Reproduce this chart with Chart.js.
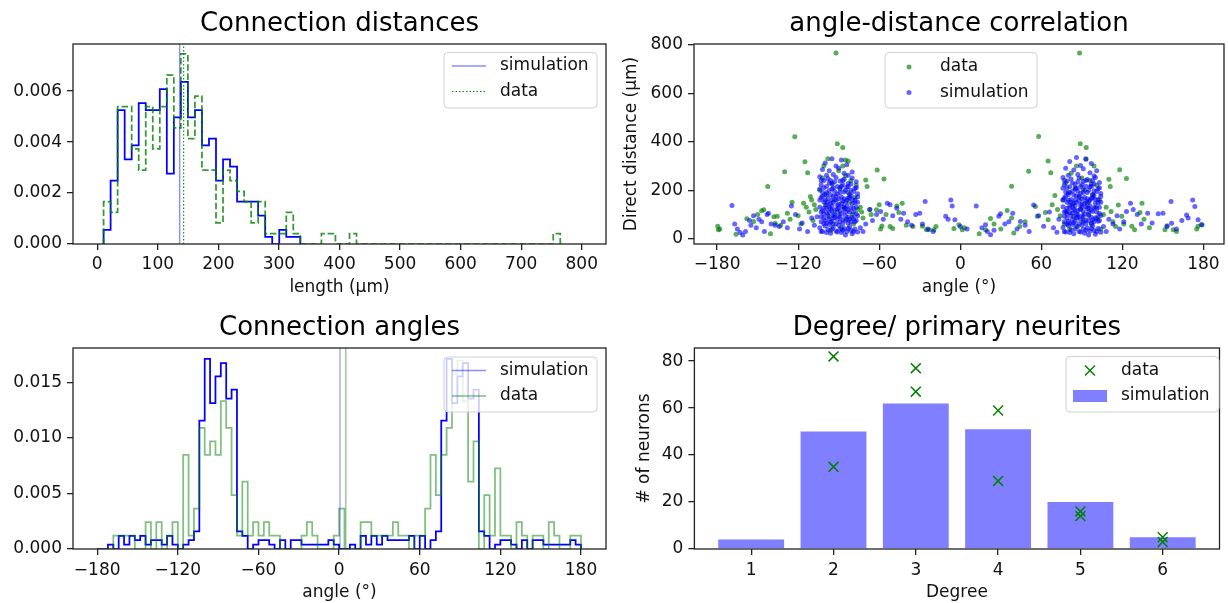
<!DOCTYPE html>
<html>
<head>
<meta charset="utf-8">
<script src="https://cdn.jsdelivr.net/npm/chart.js@4.4.1/dist/chart.umd.min.js"></script>
<style>
  html, body { margin: 0; padding: 0; background: #fff; }
  #wrap { position: relative; width: 1228px; height: 603px; }
  #wrap canvas { position: absolute; left: 0; top: 0; }
</style>
</head>
<body>
<div id="wrap">
  <canvas id="cDist" width="1228" height="603"></canvas>
  <canvas id="cCorr" width="1228" height="603"></canvas>
  <canvas id="cAngle" width="1228" height="603"></canvas>
  <canvas id="cDeg" width="1228" height="603"></canvas>
</div>
<script>
// ---- connection distances (density histograms) ----
const distBinStart = 10.5, distBinWidth = 11.6;
const distSim = [0.00055, 0.00249, 0.00525, 0.00332, 0.00387, 0.00553, 0.00525, 0.00525, 0.00608, 0.00276,
  0.00497, 0.00636, 0.00497, 0.00525, 0.00387, 0.00414, 0.00249, 0.00332, 0.00304, 0.00166,
  0.00166, 0.00166, 0.00111, 0.00028, 0, 0.00055, 0.00028, 0.00028];
const distData = [0.00166, 0.00124, 0.00539, 0.00539, 0.00373, 0.0029, 0.00539, 0.00373, 0.00539, 0.00663,
  0.00456, 0.00746, 0.00414, 0.0058, 0.0029, 0.0029, 0.00083, 0.0029, 0.00249, 0.00207,
  0.00166, 0.00083, 0.00166, 0.00041, 0.00041, 0.00041, 0.00124, 0.00041, 0, 0,
  0, 0.00041, 0.00041, 0, 0, 0.00041, 0, 0, 0, 0,
  0, 0, 0, 0, 0, 0, 0, 0, 0, 0,
  0, 0, 0, 0, 0, 0, 0, 0, 0, 0,
  0, 0, 0, 0, 0.00041];
const distSimMean = 136.1, distDataMean = 142.7;
const distXTicks = [0, 100, 200, 300, 400, 500, 600, 700, 800];
const distYTicks = [0, 0.002, 0.004, 0.006];

// ---- connection angles (density histograms, 4 degree bins) ----
const angleBinStart = -180, angleBinWidth = 4;
const angleSim = [0, 0, 0.0004, 0, 0.00119, 0.0004, 0.00119, 0.0008, 0.00119, 0.0004,
  0.0008, 0.0008, 0.0004, 0.00119, 0.0004, 0, 0.0004, 0.0008, 0.00159,
  0.01154, 0.01711, 0.01313, 0.01552, 0.01672, 0.01353, 0.01433,
  0.00159, 0.00119, 0, 0.0004, 0.0008, 0.0008, 0.0004, 0, 0.0008, 0,
  0.0008, 0.0008, 0.0004, 0.0004, 0.0004, 0.0004, 0.0004, 0.0008, 0.0004,
  0, 0, 0.0004, 0, 0.00119, 0.0004, 0.00119, 0.0004, 0.00119, 0.0008,
  0.0008, 0.0008, 0.0008, 0.00119, 0, 0.00119, 0, 0.0008, 0.00159,
  0.01154, 0.01711, 0.01313, 0.01552, 0.01672, 0.01353, 0.01433,
  0.00159, 0.00119, 0, 0.0004, 0.0008, 0.0008, 0.0004, 0, 0.0008, 0,
  0.0008, 0.0008, 0.0004, 0.0004, 0.0004, 0.0004, 0.0004, 0.0008, 0.0004];
const angleData = [0, 0, 0, 0.00121, 0.00121, 0.00121, 0.00121, 0, 0, 0.00242,
  0, 0.00242, 0, 0.00121, 0.00242, 0, 0.00847, 0.00121, 0.00363,
  0.01089, 0.00847, 0.00968, 0.00847, 0.01331, 0.01089, 0.00484,
  0.00121, 0.00605, 0.00121, 0.00242, 0.00121, 0.00242, 0.00121, 0.00121,
  0, 0, 0, 0, 0.00121, 0.00242, 0.00121, 0, 0, 0, 0.00121,
  0.00363, 0, 0, 0,
  0.00242, 0.00242, 0.00121, 0.00121, 0.00121, 0.00121, 0.00242, 0.00121, 0.00121, 0, 0.00121, 0.00121,
  0.00363, 0.00847, 0.00484, 0.00847, 0.01089, 0.01573, 0.01694, 0.01331, 0.00605, 0.00968,
  0, 0.00484, 0.00121, 0.00726, 0.00121, 0.00121, 0, 0.00242, 0.00121, 0,
  0.00121, 0.00121, 0, 0.00242, 0.00121, 0, 0, 0.00121, 0.00121];
const angleSimMean = 0.7, angleDataMean = 5;
const angleTicks = [-180, -120, -60, 0, 60, 120, 180];
const angleTickLabels = ['\u2212180', '\u2212120', '\u221260', '0', '60', '120', '180'];
const angleYTicks = [0, 0.005, 0.010, 0.015];

// ---- angle-distance correlation: [angle, direct distance] ----
const corrData = [
  [-179.5, 51], [-179, 37], [-178, 40], [-166, 18], [-158, 82], [-153, 71], [-150, 100], [-147, 115], [-145.5, 119], [-142.5, 215],
  [-140.5, 20], [-138, 90], [-137, 64], [-135.5, 92], [-133, 55], [-130, 276], [-128, 105], [-126, 80], [-124.5, 150], [-122.5, 420],
  [-120, 95], [-118, 60], [-116, 146], [-115, 317], [-114, 130], [-113, 272], [-112, 110], [-111, 174], [-110, 160], [-109, 75],
  [-108, 140], [-107, 120],
  [-104, 200], [-102, 250], [-100, 140], [-99, 180], [-97, 90], [-95, 230], [-94, 60], [-93, 160], [-91, 110], [-89, 210],
  [-88, 45], [-86, 130], [-85, 260], [-84, 80], [-83, 190], [-82, 150], [-81, 240], [-80, 100], [-79, 60], [-78, 170],
  [-77, 220], [-76, 120], [-96, 35], [-90, 280], [-87, 300],
  [-101, 301], [-98, 330], [-91, 392], [-92, 766], [-87, 376], [-85, 324], [-83, 320], [-74, 130], [-73, 110], [-72, 85],
  [-70, 242], [-69, 215], [-67, 120], [-66, 100], [-62, 119], [-61.5, 283], [-60, 140], [-59, 40], [-58, 52], [-56.5, 246],
  [-55, 100], [-52, 50], [-50, 42], [-47, 135], [-45.5, 108], [-43, 146], [-40, 55], [-35, 50], [-28, 51], [-25, 37], [-23, 37],
  [-19.5, 37], [-18, 50], [-4.7, 42], [-1, 57], [1.5, 37], [3, 45], [14, 20], [18.7, 37], [22.4, 83], [25, 60],
  [30, 40], [34.7, 116], [38, 85], [38, 216], [39.6, 23], [44, 50], [48, 70], [50.6, 278], [55.6, 133], [57, 92],
  [58, 421], [63, 108], [65, 78], [65, 320], [67, 272], [68, 140], [70, 178], [72, 120], [74, 95],
  [76, 160], [77, 60], [78, 230], [79, 110], [80, 190], [81, 40], [82, 270], [83, 140], [84, 90], [85, 210],
  [86, 300], [87, 50], [88, 170], [88.3, 766], [88.8, 392], [89, 120], [90, 250], [91, 75], [92, 200], [93.2, 376],
  [93, 330], [94, 145], [95, 100], [96, 240], [97, 60], [98, 180], [99, 300], [100, 130], [101, 220], [102, 90],
  [103, 160], [104, 40],
  [106, 100], [108, 130], [110, 245], [111, 215], [111.6, 112], [113, 70], [115, 50], [117, 139], [118, 284], [119.5, 92],
  [121, 60], [123, 248], [127, 51], [129, 37], [133, 108], [134.5, 146], [136, 80], [140, 45], [151.5, 37], [153, 53],
  [157.6, 37], [160, 30], [175, 40], [176, 51], [179, 57]
];
const corrSim = [
  [-169, 137], [-167, 60], [-165, 40], [-163, 25], [-161, 15], [-159, 30], [-156, 75], [-155, 55], [-153, 95], [-151, 45],
  [-149, 80], [-147, 70], [-145, 30], [-143, 100], [-142, 105], [-140, 60], [-137, 55], [-134, 50], [-131, 70], [-128, 45],
  [-125, 135], [-122, 100], [-119, 40], [-117, 65], [-113, 30], [-110, 85], [-108, 55], [-106, 90],
  [-95, 330], [-88, 325], [-100, 312], [-84, 305], [-92, 300],
  [-102, 285], [-97, 280], [-90, 290], [-86, 270], [-80, 275], [-94, 265], [-99, 262], [-83, 262],
  [-104, 255], [-101, 240], [-98, 248], [-95, 225], [-92, 252], [-89, 238], [-86, 245], [-83, 228], [-80, 250], [-77, 235],
  [-103, 222], [-96, 240], [-87, 222],
  [-104, 205], [-102, 190], [-99, 215], [-97, 198], [-94, 210], [-91, 185], [-89, 205], [-86, 192], [-84, 212], [-81, 200],
  [-78, 208], [-76, 185], [-100, 182], [-93, 195], [-82, 183], [-88, 216],
  [-103, 170], [-101, 152], [-98, 165], [-96, 145], [-94, 175], [-92, 158], [-90, 142], [-88, 172], [-85, 150], [-83, 168],
  [-80, 145], [-78, 160], [-76, 172], [-99, 140], [-87, 155], [-95, 160], [-81, 178],
  [-104, 130], [-102, 115], [-99, 125], [-97, 108], [-95, 135], [-93, 118], [-90, 128], [-88, 104], [-86, 122], [-84, 135],
  [-82, 110], [-79, 125], [-77, 102], [-101, 102], [-91, 138], [-85, 110], [-96, 122],
  [-103, 90], [-100, 75], [-98, 95], [-96, 68], [-94, 85], [-92, 62], [-90, 92], [-87, 78], [-85, 95], [-83, 65],
  [-80, 88], [-78, 70], [-76, 95], [-101, 62], [-89, 70], [-94, 98], [-82, 80],
  [-104, 45], [-102, 30], [-100, 52], [-98, 38], [-96, 22], [-94, 48], [-92, 32], [-90, 55], [-88, 25], [-86, 42],
  [-84, 30], [-82, 50], [-80, 20], [-78, 40], [-76, 28], [-97, 58], [-89, 40], [-81, 35], [-85, 15],
  [-103, 240], [-101, 210], [-99, 190], [-97, 230], [-95, 205], [-93, 235], [-91, 215], [-89, 190], [-87, 240], [-85, 200],
  [-83, 215], [-81, 225], [-79, 195], [-77, 210],
  [-104, 160], [-102, 175], [-100, 160], [-98, 150], [-96, 180], [-94, 150], [-92, 175], [-90, 165], [-88, 145], [-86, 165],
  [-84, 158], [-82, 170], [-80, 162], [-78, 148], [-76, 150],
  [-103, 110], [-101, 125], [-99, 108], [-97, 130], [-95, 115], [-93, 100], [-91, 122], [-89, 112], [-87, 132], [-85, 125],
  [-83, 118], [-81, 128], [-79, 110], [-77, 130],
  [-103, 70], [-101, 85], [-99, 65], [-97, 80], [-95, 72], [-93, 88], [-91, 80], [-89, 90], [-87, 62], [-85, 75],
  [-83, 88], [-81, 70], [-79, 82], [-77, 75],
  [-103, 30], [-99, 25], [-95, 40], [-91, 28], [-87, 35], [-83, 42], [-79, 30],
  [-74, 45], [-72, 30], [-70, 60], [-67, 120], [-65, 75], [-62, 100], [-59, 112], [-57, 80], [-54, 146], [-52, 140],
  [-50, 95], [-47, 125], [-44, 80], [-42, 105], [-39, 70], [-36, 55], [-33, 100], [-30, 105], [-28, 60], [-26, 153],
  [-24, 40], [-20, 30],
  [-10.8, 92], [-9, 80], [-7, 160], [-6, 135], [-4, 78], [0, 50], [5, 40], [11.8, 135], [16, 45], [18.7, 57],
  [20, 30], [22.4, 16], [25, 35], [28.5, 92], [29.8, 103], [33, 60], [36, 70], [38.8, 105], [42, 40], [44.5, 71],
  [48, 55], [51, 30], [54.3, 139], [58, 95], [61.7, 51], [66, 110], [69, 45], [71.5, 26], [73, 80],
  [86, 335], [93, 328], [81, 318], [97, 310], [89, 302],
  [78, 290], [84, 283], [91, 288], [96, 272], [101, 280], [87, 265], [80, 262], [99, 258],
  [76, 252], [79, 238], [82, 246], [85, 224], [88, 250], [91, 236], [94, 244], [97, 226], [100, 252], [103, 232],
  [77, 222], [90, 222], [98, 240],
  [76, 208], [78, 192], [81, 214], [83, 196], [86, 208], [89, 186], [91, 204], [94, 190], [96, 214], [99, 198],
  [102, 206], [104, 186], [80, 182], [87, 196], [98, 182], [93, 216],
  [77, 168], [79, 150], [82, 162], [84, 146], [86, 176], [88, 156], [90, 144], [92, 170], [95, 152], [97, 166],
  [100, 146], [102, 162], [104, 174], [81, 140], [93, 154], [85, 160], [99, 178],
  [76, 132], [78, 114], [81, 126], [83, 106], [85, 136], [87, 116], [90, 130], [92, 102], [94, 124], [96, 136],
  [98, 112], [101, 126], [103, 104], [79, 102], [89, 138], [95, 110], [84, 120],
  [77, 92], [80, 72], [82, 96], [84, 66], [86, 86], [88, 62], [90, 94], [93, 76], [95, 96], [97, 64],
  [100, 86], [102, 72], [104, 96], [79, 60], [91, 68], [86, 100], [98, 78],
  [76, 46], [78, 28], [80, 54], [82, 36], [84, 20], [86, 50], [88, 30], [90, 56], [92, 22], [94, 44],
  [96, 32], [98, 52], [100, 18], [102, 42], [104, 26], [83, 58], [91, 40], [99, 34], [95, 15],
  [77, 240], [79, 210], [81, 190], [83, 230], [85, 205], [87, 235], [89, 215], [91, 190], [93, 240], [95, 200],
  [97, 215], [99, 225], [101, 195], [103, 210],
  [76, 160], [78, 175], [80, 160], [82, 150], [84, 180], [86, 150], [88, 175], [90, 165], [92, 145], [94, 165],
  [96, 158], [98, 170], [100, 162], [102, 148], [104, 150],
  [77, 110], [79, 125], [81, 108], [83, 130], [85, 115], [87, 100], [89, 122], [91, 112], [93, 132], [95, 125],
  [97, 118], [99, 128], [101, 110], [103, 130],
  [77, 70], [79, 85], [81, 65], [83, 80], [85, 72], [87, 88], [89, 80], [91, 90], [93, 62], [95, 75],
  [97, 88], [99, 70], [101, 82], [103, 75],
  [77, 30], [81, 25], [85, 40], [89, 28], [93, 35], [97, 42], [101, 30],
  [106, 50], [108, 30], [110, 80], [113, 60], [116, 95], [118, 40], [121, 70], [123, 112], [126, 146], [128, 120],
  [131, 100], [134, 60], [138.7, 105], [142, 65], [146.5, 103], [150, 105], [153, 50], [156, 153], [156.4, 64], [160, 40],
  [164, 75], [167.5, 98], [168.7, 85], [172, 160], [173.6, 133], [176, 78], [178.5, 57]
];
const corrYTicks = [0, 200, 400, 600, 800];

// ---- degree / primary neurites ----
const degrees = [1, 2, 3, 4, 5, 6];
const degreeSim = [4, 50, 62, 51, 20, 5];
const degreeDataDeg = [2, 3, 4, 5, 6];
const degreeDataA = [82, 77, 59, 16, 5];
const degreeDataB = [35, 67, 29, 14, 3];
const degreeYTicks = [0, 20, 40, 60, 80];

Chart.defaults.font.family = '"DejaVu Sans", sans-serif';
Chart.defaults.font.size = 17;
Chart.defaults.color = '#111';

function stepPoints(start, width, vals) {
  const pts = [{x: start, y: 0}];
  vals.forEach((v, i) => pts.push({x: start + i * width, y: v}));
  pts.push({x: start + vals.length * width, y: 0});
  return pts;
}

function linAxis(o) {
  return {
    type: 'linear', min: o.min, max: o.max, offset: false,
    afterBuildTicks: s => { s.ticks = o.ticks.map(v => ({value: v})); },
    afterFit: s => { if (s.isHorizontal()) s.height = o.size; else s.width = o.size; },
    ticks: { padding: o.pad, color: '#111', autoSkip: false, maxRotation: 0,
             callback: (v, i) => o.labels[i] },
    grid: { offset: false, drawOnChartArea: false, drawTicks: true, tickLength: 6, color: '#222', lineWidth: 1.3 },
    border: { display: false },
    title: { display: !!o.title, text: o.title || '', padding: 0, color: '#111' }
  };
}

function drawHandle(ctx, it, x0, x1, cy) {
  ctx.save();
  const cx = (x0 + x1) / 2;
  if (it.kind === 'line') {
    ctx.strokeStyle = it.color; ctx.lineWidth = it.width; ctx.setLineDash(it.dash || []);
    ctx.beginPath(); ctx.moveTo(x0, cy); ctx.lineTo(x1, cy); ctx.stroke();
  } else if (it.kind === 'dot') {
    ctx.fillStyle = it.color;
    ctx.beginPath(); ctx.arc(cx, cy, 2.5, 0, Math.PI * 2); ctx.fill();
  } else if (it.kind === 'cross') {
    ctx.strokeStyle = it.color; ctx.lineWidth = 1.5;
    ctx.beginPath();
    ctx.moveTo(cx - 5, cy - 5); ctx.lineTo(cx + 5, cy + 5);
    ctx.moveTo(cx - 5, cy + 5); ctx.lineTo(cx + 5, cy - 5);
    ctx.stroke();
  } else if (it.kind === 'patch') {
    ctx.fillStyle = it.color; ctx.fillRect(x0, cy - 6, x1 - x0, 12);
  }
  ctx.restore();
}

// frame, title and legend in matplotlib style
const decor = {
  id: 'decor',
  afterDatasetsDraw(chart, args, o) {
    const ctx = chart.ctx, a = chart.chartArea;
    ctx.save();
    ctx.strokeStyle = '#222'; ctx.lineWidth = 1.3;
    ctx.strokeRect(a.left, a.top, a.right - a.left, a.bottom - a.top);
    ctx.fillStyle = '#000';
    ctx.font = '26px "DejaVu Sans", sans-serif';
    ctx.textAlign = 'center'; ctx.textBaseline = 'alphabetic';
    ctx.fillText(o.title, (a.left + a.right) / 2, o.titleY);
    const L = o.legend;
    ctx.beginPath();
    ctx.roundRect(L.x, L.y, L.w, L.h, 4);
    ctx.fillStyle = 'rgba(255,255,255,0.8)'; ctx.fill();
    ctx.strokeStyle = '#d0d0d0'; ctx.lineWidth = 1; ctx.stroke();
    L.items.forEach((it, i) => {
      drawHandle(ctx, it, L.hx0, L.hx1, L.rows[i]);
      ctx.fillStyle = '#111';
      ctx.font = '17px "DejaVu Sans", sans-serif';
      ctx.textAlign = 'left'; ctx.textBaseline = 'middle';
      ctx.fillText(it.label, L.tx, L.rows[i]);
    });
    ctx.restore();
  }
};

const baseOpts = { responsive: false, animation: false, devicePixelRatio: 1 };

// ---------- Connection distances ----------
const distYMax = 0.00785;
new Chart(document.getElementById('cDist'), {
  type: 'scatter',
  data: {
    datasets: [
      { data: stepPoints(distBinStart, distBinWidth, distSim), showLine: true, stepped: true,
        borderColor: '#0000ff', borderWidth: 1.75, pointRadius: 0, order: 4 },
      { data: stepPoints(distBinStart, distBinWidth, distData), showLine: true, stepped: true,
        borderColor: 'rgba(0,128,0,0.8)', borderWidth: 1.75, borderDash: [6.5, 2.8], pointRadius: 0, order: 3 },
      { data: [{x: distSimMean, y: 0}, {x: distSimMean, y: distYMax}], showLine: true,
        borderColor: 'rgba(0,0,255,0.45)', borderWidth: 1.4, pointRadius: 0, order: 2 },
      { data: [{x: distDataMean, y: 0}, {x: distDataMean, y: distYMax}], showLine: true,
        borderColor: 'rgb(0,140,0)', borderWidth: 1.1, borderDash: [1.5, 2], pointRadius: 0, order: 1 }
    ]
  },
  options: {
    ...baseOpts,
    layout: { padding: { left: 13, right: 622, top: 44, bottom: 304.8 } },
    scales: {
      x: linAxis({ min: -40, max: 840, ticks: distXTicks, labels: distXTicks.map(String), size: 54.2, pad: 4, title: 'length (\u00b5m)' }),
      y: linAxis({ min: 0, max: distYMax, ticks: distYTicks, labels: distYTicks.map(v => v.toFixed(3)), size: 60, pad: 5 })
    },
    plugins: {
      legend: { display: false }, tooltip: { enabled: false },
      decor: { title: 'Connection distances', titleY: 31,
        legend: { x: 444, y: 52.5, w: 153, h: 55.5, rows: [66, 91.5], hx0: 452, hx1: 486, tx: 500,
          items: [
            { kind: 'line', color: 'rgba(0,0,255,0.45)', width: 1.3, label: 'simulation' },
            { kind: 'line', color: 'rgb(0,140,0)', width: 1.1, dash: [1.5, 2], label: 'data' }
          ] } }
    }
  },
  plugins: [decor]
});

// ---------- angle-distance correlation ----------
new Chart(document.getElementById('cCorr'), {
  type: 'scatter',
  data: {
    datasets: [
      { data: corrSim.map(p => ({x: p[0], y: p[1]})), backgroundColor: 'rgba(0,0,255,0.6)',
        borderWidth: 0, pointRadius: 2.5, order: 1 },
      { data: corrData.map(p => ({x: p[0], y: p[1]})), backgroundColor: 'rgba(0,128,0,0.65)',
        borderWidth: 0, pointRadius: 2.5, order: 2 }
    ]
  },
  options: {
    ...baseOpts,
    layout: { padding: { left: 621.3, right: 2, top: 44, bottom: 304.8 } },
    scales: {
      x: linAxis({ min: -197.1, max: 195.2, ticks: angleTicks, labels: angleTickLabels, size: 54.2, pad: 4, title: 'angle (\u00b0)' }),
      y: linAxis({ min: -22, max: 803, ticks: corrYTicks, labels: corrYTicks.map(String), size: 72.7, pad: 5, title: 'Direct distance (\u00b5m)' })
    },
    plugins: {
      legend: { display: false }, tooltip: { enabled: false },
      decor: { title: 'angle-distance correlation', titleY: 31,
        legend: { x: 885, y: 52.5, w: 152, h: 55.5, rows: [67, 92.5], hx0: 892, hx1: 926, tx: 940,
          items: [
            { kind: 'dot', color: 'rgba(0,128,0,0.65)', label: 'data' },
            { kind: 'dot', color: 'rgba(0,0,255,0.6)', label: 'simulation' }
          ] } }
    }
  },
  plugins: [decor]
});

// ---------- Connection angles ----------
const angleYMax = 0.01808;
new Chart(document.getElementById('cAngle'), {
  type: 'scatter',
  data: {
    datasets: [
      { data: stepPoints(angleBinStart, angleBinWidth, angleSim), showLine: true, stepped: true,
        borderColor: '#0000ff', borderWidth: 1.75, pointRadius: 0, order: 4 },
      { data: stepPoints(angleBinStart, angleBinWidth, angleData), showLine: true, stepped: true,
        borderColor: 'rgba(0,128,0,0.5)', borderWidth: 1.75, pointRadius: 0, order: 3 },
      { data: [{x: angleSimMean, y: 0}, {x: angleSimMean, y: angleYMax}], showLine: true,
        borderColor: 'rgba(0,0,255,0.35)', borderWidth: 1.5, pointRadius: 0, order: 2 },
      { data: [{x: angleDataMean, y: 0}, {x: angleDataMean, y: angleYMax}], showLine: true,
        borderColor: 'rgba(0,128,0,0.5)', borderWidth: 1.2, pointRadius: 0, order: 1 }
    ]
  },
  options: {
    ...baseOpts,
    layout: { padding: { left: 13, right: 622, top: 348, bottom: 0 } },
    scales: {
      x: linAxis({ min: -198, max: 198.6, ticks: angleTicks, labels: angleTickLabels, size: 54, pad: 5, title: 'angle (\u00b0)' }),
      y: linAxis({ min: 0, max: angleYMax, ticks: angleYTicks, labels: angleYTicks.map(v => v.toFixed(3)), size: 60, pad: 5 })
    },
    plugins: {
      legend: { display: false }, tooltip: { enabled: false },
      decor: { title: 'Connection angles', titleY: 335,
        legend: { x: 444, y: 357, w: 153, h: 55, rows: [370.5, 396], hx0: 452, hx1: 486, tx: 500,
          items: [
            { kind: 'line', color: 'rgba(0,0,255,0.45)', width: 1.5, label: 'simulation' },
            { kind: 'line', color: 'rgba(0,128,0,0.5)', width: 1.5, label: 'data' }
          ] } }
    }
  },
  plugins: [decor]
});

// ---------- Degree / primary neurites ----------
new Chart(document.getElementById('cDeg'), {
  type: 'bar',
  data: {
    datasets: [
      { type: 'scatter', data: degreeDataDeg.map((d, i) => ({x: d, y: degreeDataA[i]})),
        pointStyle: 'crossRot', pointRadius: 7, borderColor: '#008000', borderWidth: 1.5, order: 1 },
      { type: 'scatter', data: degreeDataDeg.map((d, i) => ({x: d, y: degreeDataB[i]})),
        pointStyle: 'crossRot', pointRadius: 7, borderColor: '#008000', borderWidth: 1.5, order: 1 },
      { type: 'bar', data: degrees.map((d, i) => ({x: d, y: degreeSim[i]})),
        backgroundColor: 'rgba(0,0,255,0.5)', borderWidth: 0, barPercentage: 0.8, categoryPercentage: 1, order: 3 }
    ]
  },
  options: {
    ...baseOpts,
    layout: { padding: { left: 634.8, right: 2, top: 348, bottom: 0 } },
    scales: {
      x: linAxis({ min: 0.31, max: 6.69, ticks: degrees, labels: degrees.map(String), size: 54, pad: 5, title: 'Degree' }),
      y: linAxis({ min: 0, max: 85.6, ticks: degreeYTicks, labels: degreeYTicks.map(String), size: 59.6, pad: 5, title: '# of neurons' })
    },
    plugins: {
      legend: { display: false }, tooltip: { enabled: false },
      decor: { title: 'Degree/ primary neurites', titleY: 335,
        legend: { x: 1066, y: 356.5, w: 153, h: 55.5, rows: [370.5, 396], hx0: 1073, hx1: 1107, tx: 1121,
          items: [
            { kind: 'cross', color: '#008000', label: 'data' },
            { kind: 'patch', color: 'rgba(0,0,255,0.5)', label: 'simulation' }
          ] } }
    }
  },
  plugins: [decor]
});
</script>
</body>
</html>
